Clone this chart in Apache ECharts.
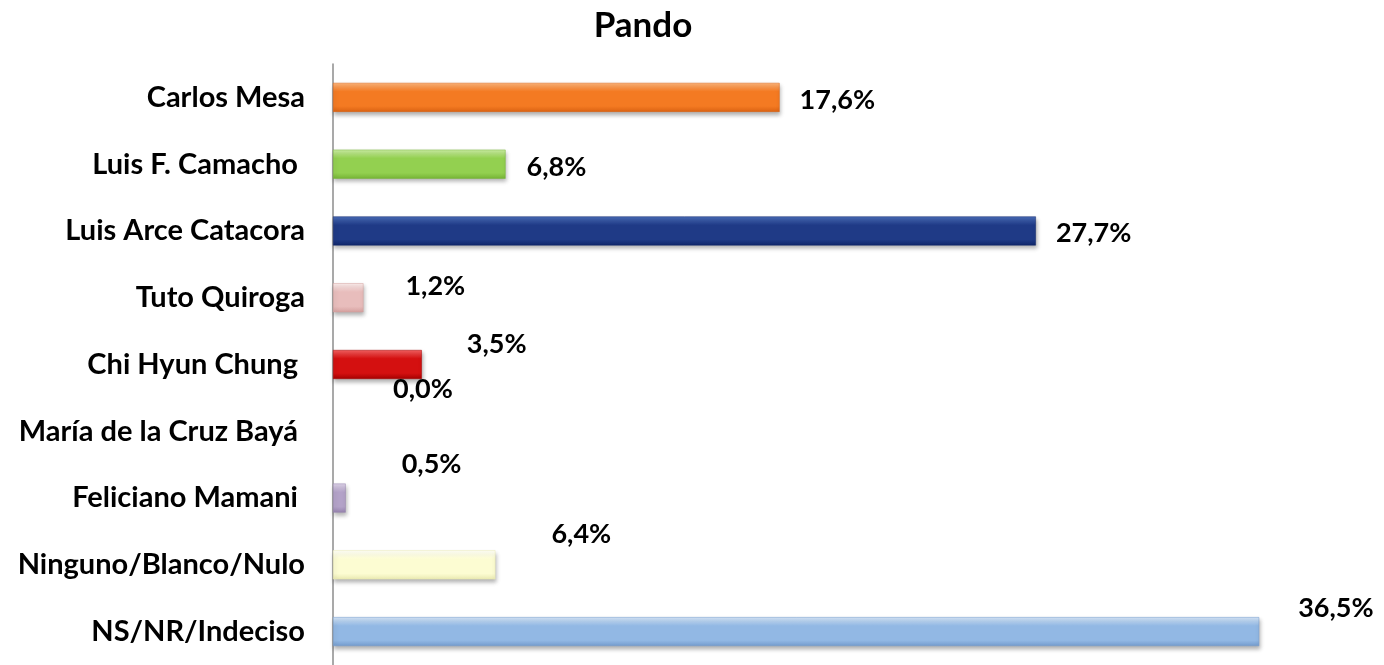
<!DOCTYPE html>
<html>
<head>
<meta charset="utf-8">
<script src="https://cdn.jsdelivr.net/npm/echarts@6/dist/echarts.min.js"></script>
<style>
html,body{margin:0;padding:0;background:#fff;}
#chart{width:1384px;height:665px;}
</style>
</head>
<body>
<div id="chart"></div>
<script>
// ---- data ----
var titleText = 'Pando';
var categories = [
  'Carlos Mesa',
  'Luis F. Camacho ',
  'Luis Arce Catacora',
  'Tuto Quiroga',
  'Chi Hyun Chung ',
  'María de la Cruz Bayá ',
  'Feliciano Mamani ',
  'Ninguno/Blanco/Nulo',
  'NS/NR/Indeciso'
];
var values = [17.6, 6.8, 27.7, 1.2, 3.5, 0.0, 0.5, 6.4, 36.5];

// ---- styles ----
var barColors = [
  ['#FDB47A', '#F47A22', '#DA6212'],
  ['#CBEDA3', '#93D050', '#76B436'],
  ['#4A6DB8', '#1F3A86', '#10276A'],
  ['#FBEDEC', '#E8BDBC', '#D5A09F'],
  ['#F46060', '#D41010', '#A50000'],
  ['#FFFFFF', '#FAFAFA', '#EEEEEE'],
  ['#DDD3E8', '#B3A2C8', '#9682AE'],
  ['#FFFFF8', '#FCFCD2', '#EAEAB2'],
  ['#D4E5F7', '#92B8E4', '#739BCD']
];
var labelOffsets = [
  [20, 3], [21, 3], [20, 2], [42, -11], [45, -20],
  [60, -42], [56, -34], [56, -31], [39, -23]
];

function grad(c) {
  return new echarts.graphic.LinearGradient(0, 0, 0, 1, [
    {offset: 0, color: c[0]},
    {offset: 0.3, color: c[1]},
    {offset: 0.8, color: c[1]},
    {offset: 1, color: c[2]}
  ]);
}

var seriesData = values.map(function (v, i) {
  return {
    value: v,
    itemStyle: {
      color: grad(barColors[i]),
      borderColor: barColors[i][2],
      borderWidth: v > 0 ? 0.5 : 0,
      shadowColor: 'rgba(0,0,0,0.3)',
      shadowBlur: 4,
      shadowOffsetY: 3,
      shadowOffsetX: 1
    },
    label: {offset: labelOffsets[i]}
  };
});

var chart = echarts.init(document.getElementById('chart'), null, {renderer: 'canvas'});
chart.setOption({
  animation: false,
  backgroundColor: '#ffffff',
  title: {
    text: titleText,
    left: 638,
    top: 3,
    textAlign: 'center',
    textStyle: {
      fontFamily: 'Lato',
      fontWeight: 'bold',
      fontSize: 35,
      color: '#000'
    }
  },
  grid: {left: 333, right: 36, top: 64, bottom: -3, containLabel: false},
  xAxis: {
    type: 'value',
    min: 0,
    max: 40,
    show: false,
    splitLine: {show: false}
  },
  yAxis: {
    type: 'category',
    data: categories,
    inverse: true,
    axisLine: {show: true, lineStyle: {color: '#8c8c8c', width: 1.5}},
    axisTick: {show: false},
    axisLabel: {
      margin: 28,
      fontFamily: 'Lato',
      fontWeight: 'bold',
      fontSize: 29,
      color: '#000'
    }
  },
  series: [{
    type: 'bar',
    data: seriesData,
    barWidth: 29,
    label: {
      show: true,
      position: 'right',
      distance: 0,
      fontFamily: 'Lato',
      fontWeight: 'bold',
      fontSize: 27,
      color: '#000',
      formatter: function (p) {
        return p.value.toFixed(1).replace('.', ',') + '%';
      }
    }
  }]
});
</script>
</body>
</html>
